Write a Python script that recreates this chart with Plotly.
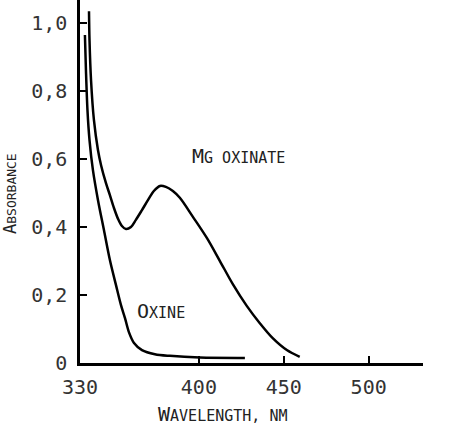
import plotly.graph_objects as go

# Data
mg_wl = [335.3, 335.6, 336.5, 338.2, 340.6, 342.4, 345.3, 347.6, 350.0, 352.4, 354.7, 357.1,
         360.0, 362.9, 366.5, 370.0, 373.5, 377.1, 380.6, 384.7, 388.8, 396.5, 404.7, 412.4,
         420.0, 428.2, 435.9, 443.5, 451.8, 459.4]
mg_abs = [1.035, 0.950, 0.832, 0.715, 0.626, 0.582, 0.529, 0.494, 0.456, 0.424, 0.403, 0.394,
          0.400, 0.421, 0.450, 0.479, 0.506, 0.521, 0.518, 0.506, 0.486, 0.430, 0.368, 0.300,
          0.232, 0.168, 0.117, 0.073, 0.038, 0.018]

ox_wl = [332.9, 333.5, 334.4, 335.6, 337.6, 340.6, 344.1, 347.6, 351.2, 354.1, 356.5, 358.8,
         361.8, 366.5, 374.1, 382.9, 400.6, 427.1]
ox_abs = [0.965, 0.862, 0.744, 0.656, 0.568, 0.479, 0.391, 0.303, 0.229, 0.171, 0.132, 0.091,
          0.059, 0.038, 0.026, 0.021, 0.016, 0.015]

x_ticks = [330, 400, 450, 500]
x_ticktext = ["330", "400", "450", "500"]
y_ticks = [0, 0.2, 0.4, 0.6, 0.8, 1.0]
y_ticktext = ["0", "0,2", "0,4", "0,6", "0,8", "1,0"]

FONT = "DejaVu Sans Mono"
L, R, T, B = 80, 40, 0, 68
W, H = 463, 431
PW, PH = W - L - R, H - T - B


def px(x):
    return (x - L) / PW


def py(y):
    return (H - B - y) / PH


fig = go.Figure()
for wl, ab in [(mg_wl, mg_abs), (ox_wl, ox_abs)]:
    fig.add_trace(go.Scatter(x=wl, y=ab, mode="lines",
                             line=dict(color="black", width=2.5, shape="spline", smoothing=0.9),
                             showlegend=False, hoverinfo="skip"))

small = "font-size:15px"
fig.add_annotation(x=394.5, y=0.61, xref="x", yref="y", xanchor="left", yanchor="middle",
                   text=f"M<span style='{small}'>G OXINATE</span>", showarrow=False,
                   font=dict(family=FONT, size=20, color="#222"))
fig.add_annotation(x=362.5, y=0.153, xref="x", yref="y", xanchor="left", yanchor="middle",
                   text=f"O<span style='{small}'>XINE</span>", showarrow=False,
                   font=dict(family=FONT, size=20, color="#222"))
fig.add_annotation(x=px(222), y=py(414), xref="paper", yref="paper", xanchor="center", yanchor="middle",
                   text=f"W<span style='{small}'>AVELENGTH, NM</span>", showarrow=False,
                   font=dict(family=FONT, size=20, color="#222"))
fig.add_annotation(x=px(10), y=py(194), xref="paper", yref="paper", xanchor="center", yanchor="middle",
                   text=f"A<span style='font-size:13px'>BSORBANCE</span>", showarrow=False, textangle=-90,
                   font=dict(family=FONT, size=17, color="#222"))

fig.update_layout(
    width=W, height=H, margin=dict(l=L, r=R, t=T, b=B),
    paper_bgcolor="white", plot_bgcolor="white",
    xaxis=dict(range=[330, 532], showgrid=False, zeroline=False, showline=True, linecolor="black",
               linewidth=2.5, ticks="inside", ticklen=7, tickwidth=2, tickcolor="black",
               tickvals=x_ticks, ticktext=x_ticktext, ticklabelstandoff=4,
               tickfont=dict(family=FONT, size=20, color="#333")),
    yaxis=dict(range=[0, 1.068], showgrid=False, zeroline=False, showline=True, linecolor="black",
               linewidth=2.5, ticks="inside", ticklen=7, tickwidth=2, tickcolor="black",
               tickvals=y_ticks, ticktext=y_ticktext, ticklabelstandoff=6,
               tickfont=dict(family=FONT, size=20, color="#333")),
)

fig.write_html("out.html")
